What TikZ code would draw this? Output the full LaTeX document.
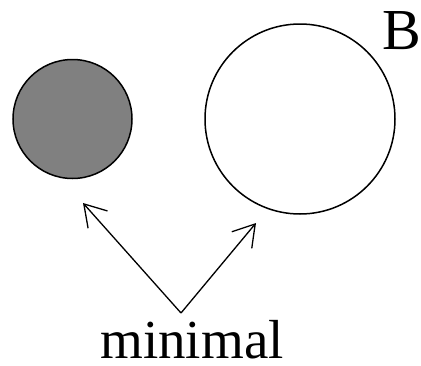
\documentclass[tikz,border=0pt]{standalone}
\usepackage{fontspec}
\setmainfont{Liberation Serif}
\usetikzlibrary{arrows.meta, positioning}
\definecolor{inkdisk}{HTML}{808080}

\begin{document}
\begin{tikzpicture}[x=1pt, y=-1pt,
    disk/.style={circle, draw=black, line width=1.5pt, inner sep=0pt},
    pointer/.style={-{Straight Barb[length=21pt, width=26pt, line width=1.3pt]}, line width=1.3pt}]
  \useasboundingbox (0,0) rectangle (421,365);
  \node[disk, fill=inkdisk, minimum size=119pt] (small) at (72.5,119) {};
  \node[disk, fill=white, minimum size=190pt] (big) at (300,119) {};
  \node[font=\fontsize{58}{58}\selectfont, inner sep=0pt, anchor=base] (labB) at (402,49) {B};
  \node[font=\fontsize{55}{55}\selectfont, inner sep=0pt, anchor=base] (minimal) at (192,358) {minimal};
  \coordinate (apex) at (181,313);
  \coordinate (tipsmall) at (83,203);
  \coordinate (tipbig) at (256,223);
  \draw[pointer] (apex) -- (tipsmall);
  \draw[pointer] (apex) -- (tipbig);
\end{tikzpicture}
\end{document}
